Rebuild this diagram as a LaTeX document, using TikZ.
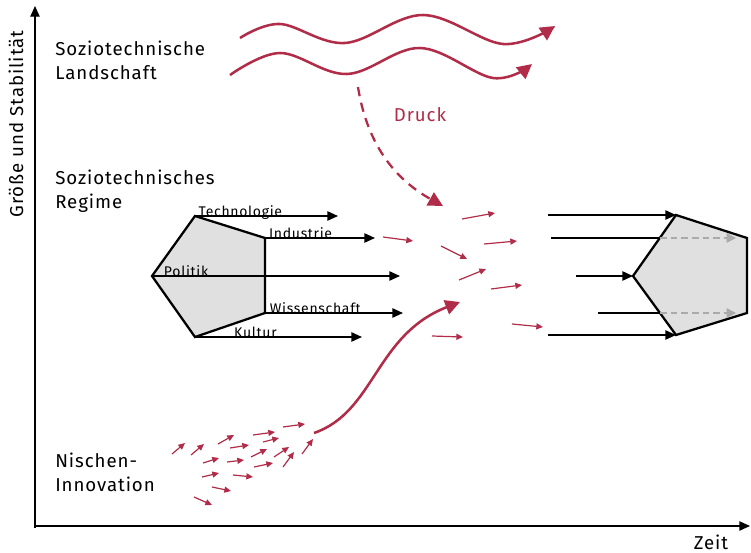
\documentclass[tikz,border=0pt]{standalone}
\usepackage{fontspec}
\setmainfont{Fira Sans}[LetterSpace=5]
\usetikzlibrary{arrows.meta}
\definecolor{druckrot}{RGB}{176,44,72}
\definecolor{hellgrau}{RGB}{224,224,224}
\definecolor{strichgrau}{RGB}{170,170,170}

\begin{document}
\begin{tikzpicture}[x=0.75pt, y=-0.75pt,
  achse/.style = {line width=1pt, -{Triangle[length=8pt,width=7pt]}},
  ebene/.style = {align=left, anchor=north west, inner sep=0, font=\fontsize{14}{18}\selectfont},
  fuenfeck/.style = {draw, line width=1.7pt, fill=hellgrau, line join=miter},
  pfeil/.style = {line width=1.2pt, -{Triangle[length=8pt,width=7pt]}},
  strang/.style = {anchor=base west, inner sep=0, font=\fontsize{10.5}{12}\selectfont},
  geisterpfeil/.style = {strichgrau, line width=1.1pt, dash pattern=on 5pt off 3pt, -{Triangle[length=7pt,width=7pt]}},
  welle/.style = {druckrot, line width=1.9pt, -{Triangle[length=11pt,width=11pt]}},
  klein/.style = {druckrot, line width=0.9pt, -{Triangle[length=5pt,width=4.5pt]}}]
\useasboundingbox (0,0) rectangle (751,553);

\coordinate (ursprung) at (35,526);
\coordinate (yspitze) at (35,6);
\coordinate (xspitze) at (750,526);
\draw[achse] (ursprung |- 0,528) -- (yspitze);
\draw[achse] (34,526) -- (xspitze);
\node[rotate=90, font=\fontsize{14}{16}\selectfont] (ylabel) at (16,124) {Größe und Stabilität};
\node[font=\fontsize{14}{16}\selectfont] (xlabel) at (711,542) {Zeit};

\node[ebene] (landschaft) at (55,41) {Soziotechnische\\Landschaft};
\node[ebene] (regime) at (55,170) {Soziotechnisches\\Regime};
\node[ebene] (nische) at (55,453) {Nischen-\\Innovation};

\draw[welle] plot[smooth, tension=0.6] coordinates {(240,38) (280,24) (345,43) (423,15) (503,44) (555,26)};
\draw[welle] plot[smooth, tension=0.6] coordinates {(230,75) (280,53) (347,74) (420,48) (493,78) (532,64)};
\coordinate (druckstart) at (358,87);
\coordinate (druckziel) at (443,206);
\draw[druckrot, line width=1.7pt, dash pattern=on 7pt off 5pt, -{Triangle[length=11pt,width=11pt]}]
  (druckstart) .. controls (368,150) and (400,182) .. (druckziel);
\node[druckrot, font=\fontsize{14}{16}\selectfont] (druck) at (420,115) {Druck};

\coordinate (L1) at (152,276); \coordinate (L2) at (195,216); \coordinate (L3) at (265,238);
\coordinate (L4) at (265,313); \coordinate (L5) at (195,337);
\draw[fuenfeck] (L1) -- (L2) -- (L3) -- (L4) -- (L5) -- cycle;
\draw[pfeil] (L2) -- (338,216) node[strang, pos=0.02] {Technologie};
\draw[pfeil] (L3) -- (375,238) node[strang, pos=0.03] {Industrie};
\draw[pfeil] (L1) -- (400,276) node[strang, pos=0.045] {Politik};
\draw[pfeil] (L4) -- (403,313) node[strang, pos=0.03] {Wissenschaft};
\draw[pfeil] (L5) -- (362,337) node[strang, pos=0.23] {Kultur};

\coordinate (R1) at (633,276); \coordinate (R2) at (676,215); \coordinate (R3) at (747,238);
\coordinate (R4) at (747,313); \coordinate (R5) at (676,335);
\coordinate (RO) at (660,238); \coordinate (RU) at (660,313);
\draw[fuenfeck] (R1) -- (R2) -- (R3) -- (R4) -- (R5) -- cycle;
\draw[pfeil] (548,215) -- (R2);
\draw[line width=1.2pt] (551,238) -- (RO);
\draw[geisterpfeil] (RO) -- (736,238);
\draw[pfeil] (576,276) -- (R1);
\draw[line width=1.2pt] (598,313) -- (RU);
\draw[geisterpfeil] (RU) -- (736,313);
\draw[pfeil] (548,335) -- (R5);

\foreach \xa/\ya/\xb/\yb in {462/219/495/213, 383/237/413/241, 441/246/467/259, 484/244/517/241,
  459/280/486/269, 491/289/522/285, 512/324/543/327, 432/336/463/337}
  \draw[klein] (\xa,\ya) -- (\xb,\yb);

\foreach \xa/\ya/\xb/\yb in {172/454/185/443, 191/455/204/444, 218/444/234/435, 230/448/249/445,
  253/435/275/432, 283/427/305/424, 263/442/279/438, 203/463/219/458, 227/462/244/460,
  251/457/267/449, 274/457/289/447, 302/454/313/439, 202/477/219/473, 233/475/253/477,
  254/467/273/463, 283/467/294/452, 212/487/231/491, 194/497/212/505}
  \draw[klein] (\xa,\ya) -- (\xb,\yb);

\coordinate (nischenstart) at (314,433);
\coordinate (nischenziel) at (460,302);
\draw[welle] (nischenstart) .. controls (375,412) and (375,335) .. (nischenziel);
\end{tikzpicture}
\end{document}
